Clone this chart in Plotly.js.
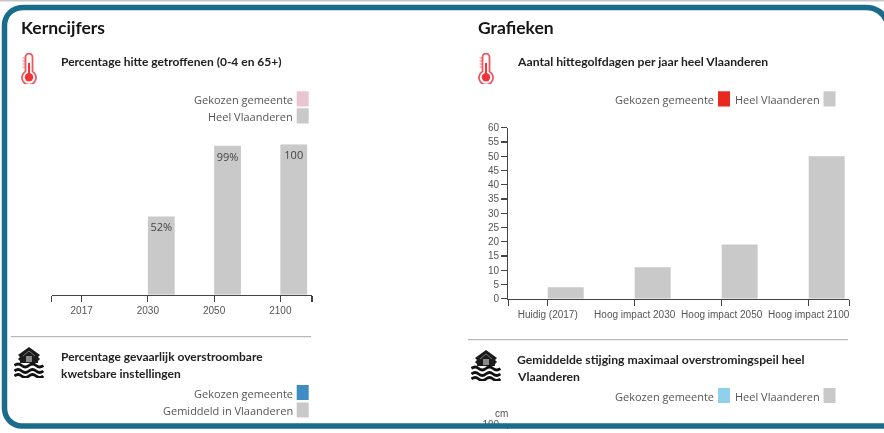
<!DOCTYPE html>
<html>
<head>
<meta charset="utf-8">
<script src="https://cdn.plot.ly/plotly-3.0.1.min.js"></script>
<style>
html,body{margin:0;padding:0;background:#fff;overflow:hidden}
#chart{width:884px;height:433px;filter:blur(0.4px)}
</style>
</head>
<body>
<div id="chart"></div>
<script>
// Data
const pctYears = ['2017', '2030', '2050', '2100'];
const pctValues = [0, 52, 99, 100];
const pctLabels = ['', '52%', '99%', '100'];
const heatCategories = ['Huidig (2017)', 'Hoog impact 2030', 'Hoog impact 2050', 'Hoog impact 2100'];
const heatValues = [4, 11, 19, 50];
const heatTicks = [0, 5, 10, 15, 20, 25, 30, 35, 40, 45, 50, 55, 60];
const floodTicks = [100];

// Styling
const W = 884, H = 433;
const GREY = '#c9c9c9', TEAL = '#1a6c8c';
const HEAD = 'Lato, "Noto Sans", sans-serif';
const LEG = '"Open Sans", "Noto Sans", sans-serif';
const AX = '"Liberation Sans", Arial, sans-serif';
const fx = x => x / W, fy = y => 1 - y / H;

const ann = [], shapes = [], images = [];
function text(t, x, y, size, color, family, anchor, bold) {
  ann.push({text: bold ? '<b>' + t + '</b>' : t, xref: 'paper', yref: 'paper', x: fx(x), y: fy(y),
    xanchor: anchor || 'left', yanchor: 'middle', showarrow: false, borderpad: 0,
    font: {size: size, color: color, family: family}});
}
function rect(x0, y0, x1, y1, color, layer) {
  shapes.push({type: 'rect', xref: 'paper', yref: 'paper', x0: fx(x0), x1: fx(x1), y0: fy(y0), y1: fy(y1),
    fillcolor: color, line: {width: 0}, layer: layer || 'above'});
}
function hline(x0, x1, y, color) {
  shapes.push({type: 'line', xref: 'paper', yref: 'paper', x0: fx(x0), x1: fx(x1), y0: fy(y), y1: fy(y),
    line: {color: color, width: 1}, layer: 'above'});
}
function icon(svg, x, y, w, h) {
  images.push({source: 'data:image/svg+xml;utf8,' + encodeURIComponent(svg), xref: 'paper', yref: 'paper',
    x: fx(x), y: fy(y), sizex: w / W, sizey: h / H, xanchor: 'left', yanchor: 'top', sizing: 'stretch', layer: 'above'});
}

const thermo = '<svg xmlns="http://www.w3.org/2000/svg" viewBox="0 0 16 31" width="16" height="31">' +
  '<path d="M4.5 18.5V4a3.5 3.5 0 0 1 7 0V18.5a7 7 0 1 1-7 0Z" fill="#fff" stroke="#f0575c" stroke-width="1.8"/>' +
  '<circle cx="8" cy="24.3" r="4.2" fill="#f0343a"/><rect x="7" y="10" width="2" height="12" fill="#f0343a"/>' +
  '<path d="M1.5 5H4.5M1.5 8H4.5M1.5 11H4.5M1.5 14H4.5" stroke="#f0575c" stroke-width="0.8"/></svg>';
const flood = '<svg xmlns="http://www.w3.org/2000/svg" viewBox="0 0 30 31" width="30" height="31">' +
  '<path d="M15 0L4 8L6 10L4 12L6 14V16H24V14L26 12L24 10L26 8Z" fill="#1c1c1c"/>' +
  '<path d="M15 4L9 9M15 4L21 9" stroke="#777" stroke-width="1"/>' +
  '<rect x="12" y="9" width="6" height="6" fill="#8a8a8a"/>' +
  '<path d="M0.5 18.5q3.6-3 7.2 0t7.2 0t7.2 0t7.2 0M0.5 24q3.6-3 7.2 0t7.2 0t7.2 0t7.2 0M0.5 29q3.6-3 7.2 0t7.2 0t7.2 0t7.2 0" fill="none" stroke="#111" stroke-width="2.8"/></svg>';

// Top line of the page
rect(0, 0, W, 1.5, '#c6c6c6');

// Headings
text('Kerncijfers', 19.5, 27, 17.5, '#151515', HEAD, 'left', true);
text('Grafieken', 476.5, 27, 17.5, '#151515', HEAD, 'left', true);
text('Percentage hitte getroffenen (0-4 en 65+)', 59.5, 62, 12, '#222', HEAD, 'left', true);
text('Aantal hittegolfdagen per jaar heel Vlaanderen', 516, 62, 12.2, '#222', HEAD, 'left', true);
text('Percentage gevaarlijk overstroombare', 59.5, 356, 12, '#222', HEAD, 'left', true);
text('kwetsbare instellingen', 59.5, 373, 12, '#222', HEAD, 'left', true);
text('Gemiddelde stijging maximaal overstromingspeil heel', 516, 359, 12.2, '#222', HEAD, 'left', true);
text('Vlaanderen', 516, 376, 12.2, '#222', HEAD, 'left', true);

// Left legends
text('Gekozen gemeente', 294, 99, 11, '#555', LEG, 'right');
rect(296.7, 91.3, 308.7, 106.5, '#e9c5d3');
text('Heel Vlaanderen', 294, 116.5, 11, '#555', LEG, 'right');
rect(296.7, 108.3, 308.7, 123.5, GREY);
text('Gekozen gemeente', 294, 393, 11, '#555', LEG, 'right');
rect(296.7, 385, 308.7, 400, '#3f8cc4');
text('Gemiddeld in Vlaanderen', 294, 410.5, 11, '#555', LEG, 'right');
rect(296.7, 402.5, 308.7, 417.5, GREY);

// Right legends
text('Gekozen gemeente', 715, 99, 11, '#555', LEG, 'right');
rect(718, 91.3, 730, 106.5, '#e8291f');
text('Heel Vlaanderen', 733.5, 99, 11, '#555', LEG, 'left');
rect(823.5, 91.3, 835.5, 106.5, GREY);
text('Gekozen gemeente', 715, 396, 11, '#555', LEG, 'right');
rect(718, 388, 730, 403, '#8fd0ec');
text('Heel Vlaanderen', 733.5, 396, 11, '#555', LEG, 'left');
rect(823.5, 388, 835.5, 403, GREY);

// Dividers
hline(11, 311, 336.7, '#a8a8a8');
hline(468, 848, 339.7, '#a8a8a8');

// Icons
icon(thermo, 21, 53, 16, 31);
icon(thermo, 478, 53, 16, 31);
icon(flood, 14, 347, 30, 31);
icon(flood, 471, 350, 30, 31);

text('cm', 501, 413, 10, '#555', AX, 'center');

// Outer frame, drawn over the cut-off third chart
rect(0, 429, W, H, '#fff');
const p = (x, y) => fx(x).toFixed(5) + ',' + fy(y).toFixed(5);
shapes.push({type: 'path', xref: 'paper', yref: 'paper', layer: 'above',
  path: 'M' + p(887, 426) + ' L' + p(22, 426) + ' C' + p(12, 426) + ' ' + p(4.5, 418) + ' ' + p(4.5, 408) +
        ' L' + p(4.5, 26) + ' C' + p(4.5, 15) + ' ' + p(12, 7.5) + ' ' + p(24, 7.5) +
        ' L' + p(866, 7.5) + ' C' + p(876, 7.5) + ' ' + p(884, 13) + ' ' + p(887, 22),
  line: {color: TEAL, width: 5.5}});

const traces = [
  {type: 'bar', x: [0, 1, 2, 3], y: pctValues, xaxis: 'x', yaxis: 'y', offset: 0, width: 0.405,
   marker: {color: GREY, line: {width: 0}}, text: pctLabels, textposition: 'inside', insidetextanchor: 'end',
   textangle: 0, constraintext: 'none', cliponaxis: false,
   insidetextfont: {size: 11, color: '#444', family: LEG}, hoverinfo: 'skip'},
  {type: 'bar', x: [0, 1, 2, 3], y: heatValues, xaxis: 'x2', yaxis: 'y2', offset: 0, width: 0.414,
   marker: {color: GREY, line: {width: 0}}, hoverinfo: 'skip'},
  {type: 'bar', x: [], y: [], xaxis: 'x3', yaxis: 'y3', hoverinfo: 'skip'}
];

const axisBase = {showgrid: false, zeroline: false, showline: true, linecolor: '#444', linewidth: 1.2,
  ticks: 'outside', ticklen: 6, tickcolor: '#444', tickwidth: 1.2, fixedrange: true,
  tickfont: {family: AX, size: 10, color: '#555'}};

const layout = {
  width: W, height: H, margin: {l: 0, r: 0, t: 0, b: 0, pad: 0},
  paper_bgcolor: '#fff', plot_bgcolor: 'rgba(0,0,0,0)', showlegend: false,
  xaxis: Object.assign({}, axisBase, {domain: [fx(51.7), fx(312)], range: [-0.452, 3.478], anchor: 'y',
    tickmode: 'array', tickvals: [-0.452, 0, 1, 2, 3, 3.478], ticktext: [''].concat(pctYears, ['']), tickangle: 0}),
  yaxis: {domain: [fy(294.7), fy(144.3)], range: [0, 100], anchor: 'x', visible: false, fixedrange: true},
  xaxis2: Object.assign({}, axisBase, {domain: [fx(508.3), fx(849.3)], range: [-0.453, 3.467], anchor: 'y2',
    tickmode: 'array', tickvals: [-0.453, 0, 1, 2, 3, 3.467], ticktext: [''].concat(heatCategories, ['']), tickangle: 0}),
  yaxis2: Object.assign({}, axisBase, {domain: [fy(298.7), fy(127.7)], range: [0, 60], anchor: 'x2',
    tickmode: 'array', tickvals: heatTicks, ticktext: heatTicks.map(String)}),
  xaxis3: {domain: [fx(508.3), fx(849.3)], range: [0, 1], anchor: 'y3', visible: false, fixedrange: true},
  yaxis3: Object.assign({}, axisBase, {domain: [0, fy(424.5)], range: [0, 100], anchor: 'x3',
    tickmode: 'array', tickvals: floodTicks, ticktext: floodTicks.map(String)}),
  annotations: ann, shapes: shapes, images: images
};

Plotly.newPlot('chart', traces, layout, {displayModeBar: false, staticPlot: true});
</script>
</body>
</html>
